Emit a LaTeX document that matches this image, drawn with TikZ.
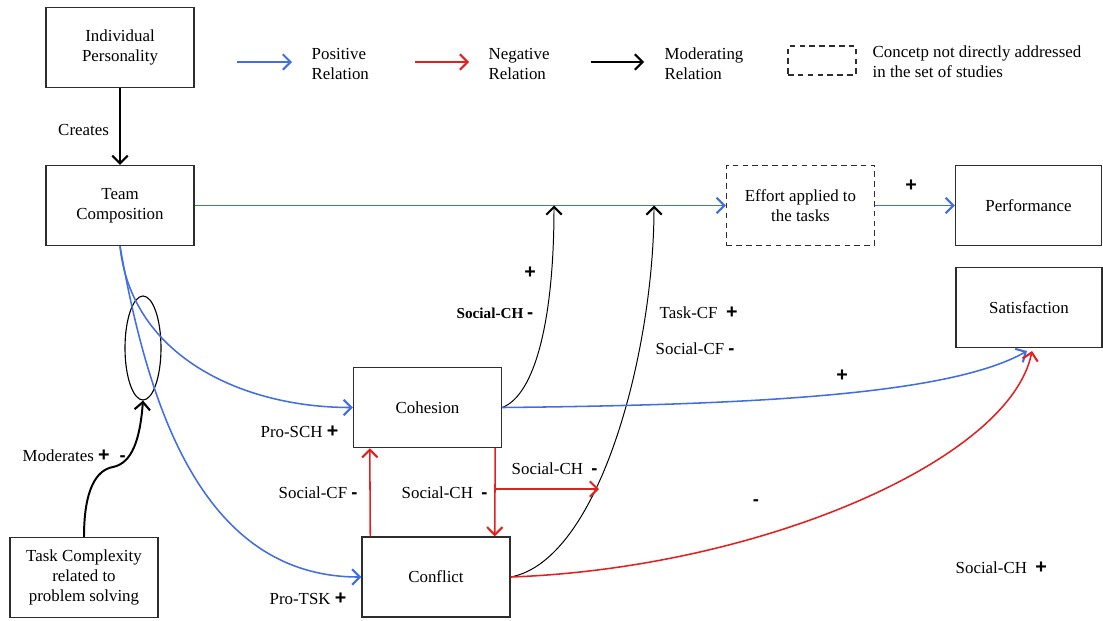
\documentclass[tikz,border=0pt]{standalone}
\usepackage{fontspec}
\IfFontExistsTF{LiberationSerif-Regular.ttf}
  {\setmainfont{LiberationSerif}[Extension=.ttf, UprightFont=*-Regular,
     BoldFont=*-Bold, ItalicFont=*-Italic, BoldItalicFont=*-BoldItalic]}
  {\setmainfont{Liberation Serif}}
\newfontfamily\signfont{Liberation Sans}
\usetikzlibrary{arrows.meta,shapes.geometric}

\definecolor{posblue}{RGB}{66,110,228}
\definecolor{negred}{RGB}{226,32,32}
\definecolor{boxgray}{RGB}{45,45,45}
\newcommand{\pls}{{\signfont\fontsize{14}{14}\selectfont\bfseries +}}
\newcommand{\mns}{{\signfont\fontsize{13}{14}\selectfont\bfseries -}}

\begin{document}
\begin{tikzpicture}[x=0.025cm, y=-0.025cm,
    font=\rmfamily\fontsize{12}{14.4}\selectfont,
    box/.style={draw=boxgray, line width=1pt, fill=white, minimum width=3.7cm,
                minimum height=2cm, align=center, inner sep=2pt},
    ghost/.style={box, dash pattern=on 4pt off 3pt},
    tip/.style={-{Straight Barb[length=5.5pt,width=11pt,line width=1.5pt]}},
    posrel/.style={tip, posblue, line width=1.1pt},
    negrel/.style={tip, negred, line width=1.1pt},
    modrel/.style={tip, black, line width=0.7pt},
    lbl/.style={inner sep=1pt, anchor=west}]
    \useasboundingbox (0,0) rectangle (1103,620);

    % legend
    \coordinate (lp0) at (237,62);  \coordinate (lp1) at (292,62);
    \coordinate (ln0) at (415,62);  \coordinate (ln1) at (469,62);
    \coordinate (lm0) at (591,62);  \coordinate (lm1) at (644,62);
    \draw[posrel, line width=1.3pt] (lp0) -- (lp1);
    \draw[negrel, line width=1.3pt] (ln0) -- (ln1);
    \draw[modrel, line width=1.3pt] (lm0) -- (lm1);
    \node[lbl, align=left] (lpos) at (310,64) {Positive\\Relation};
    \node[lbl, align=left] (lneg) at (487,64) {Negative\\Relation};
    \node[lbl, align=left] (lmod) at (663,64) {Moderating\\Relation};
    \node[draw=boxgray, line width=0.9pt, dash pattern=on 4pt off 3pt,
          minimum width=1.7cm, minimum height=0.72cm] (lghost) at (822,60.5) {};
    \node[lbl, align=left] (lconc) at (871,62) {Concetp not directly addressed\\in the set of studies};

    % boxes
    \node[box] (ind)    at (120,47.5)   {Individual\\Personality};
    \node[box] (team)   at (120,205.5)  {Team\\Composition};
    \node[ghost] (effort) at (800.5,205.5) {Effort applied to\\the tasks};
    \node[box, minimum width=3.65cm] (perf) at (1028.5,205.5) {Performance};
    \node[box, minimum width=3.65cm] (sat)  at (1029,307.5)   {Satisfaction};
    \node[box] (coh)    at (427.5,407.5) {Cohesion};
    \node[box] (conf)   at (436,577)     {Conflict};
    \node[box] (task)   at (84,577.5)    {Task Complexity\\related to\\problem solving};
    \node[draw, ellipse, line width=0.8pt, minimum width=0.9cm, minimum height=2.6cm,
          inner sep=0pt] (grp) at (143,348) {};

    % relations
    \draw[modrel, line width=1.2pt] (ind) -- (team) node[pos=0.55, left=4pt] {Creates};
    \draw[posrel] (team.east) -- (effort.west);
    \draw[posrel] (effort.east) -- (perf.west);
    \draw[posrel] (team.south) to[out=-84, in=180] (coh.west);
    \draw[posrel] (team.south) to[out=-80, in=180] (conf.west);
    \draw[modrel, line width=1.4pt] (task.north) .. controls (84,490) and (96,470) .. (113,467)
        .. controls (132,463) and (140,440) .. (grp.south);

    \coordinate (m1) at (554,205.5);
    \coordinate (m2) at (654,205.5);
    \draw[modrel] (coh.east) .. controls (535,395) and (554,320) .. (m1);
    \draw[modrel] (conf.east) .. controls (600,560) and (654,350) .. (m2);

    \draw[posrel] (coh.east) .. controls (750,405) and (950,395) .. (1027,351);
    \draw[negrel] (conf.east) .. controls (760,568) and (1010,460) .. (1032,351);

    \draw[negrel] ([xshift=0.225cm]conf.north west) -- ([xshift=0.425cm]coh.south west);
    \draw[negrel] ([xshift=-0.175cm]coh.south east) -- ([xshift=-0.4cm]conf.north east);
    \coordinate (br0) at (495,489);
    \coordinate (br1) at (599,489);
    \draw[negrel] (br0) -- (br1);

    % signs and labels
    \node[lbl] (lcr)  at (21,456)  {Moderates \pls\hspace{0.6em}\mns};
    \node[lbl] (l1)   at (259,432) {Pro-SCH \pls};
    \node[lbl] (l2)   at (268,599) {Pro-TSK \pls};
    \node[lbl] (l3)   at (277,493) {Social-CF \mns};
    \node[lbl] (l4)   at (400,493) {Social-CH \ \mns};
    \node[lbl] (l5)   at (510,469) {Social-CH \ \mns};
    \node[lbl] (l6)   at (455,313) {\fontsize{10.8}{12}\selectfont\bfseries Social-CH \mns};
    \node (s1) at (530,273) {\pls};
    \node[lbl] (l7)   at (658,313) {Task-CF \ \pls};
    \node[lbl] (l8)   at (654,349) {Social-CF \mns};
    \node (s2) at (842,376) {\pls};
    \node (s3) at (756,503) {\mns};
    \node (s4) at (911,186) {\pls};
    \node[lbl] (l9)   at (954,568) {Social-CH \ \pls};
\end{tikzpicture}
\end{document}
